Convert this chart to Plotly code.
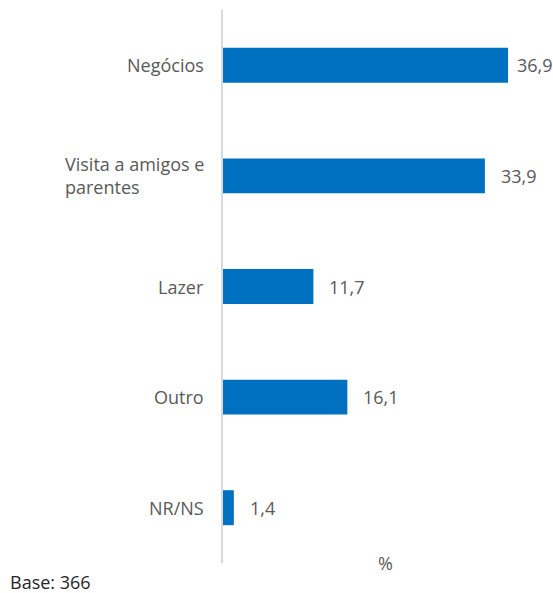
import plotly.graph_objects as go

# Motivo da viagem (%)
categorias = ["Negócios", "Visita a amigos e<br>parentes", "Lazer", "Outro", "NR/NS"]
valores = [36.9, 33.9, 11.7, 16.1, 1.4]
rotulos = [f"{v:.1f}".replace(".", ",") for v in valores]

FONTE = "Open Sans"
CINZA = "#595959"
AZUL = "#0070C0"

LARGURA, ALTURA = 553, 593
MARGEM = dict(l=223, r=21, t=10, b=30)
X_MAX = 40
largura_plot = LARGURA - MARGEM["l"] - MARGEM["r"]
px_por_unidade = largura_plot / X_MAX

fig = go.Figure(
    go.Bar(
        x=valores,
        y=categorias,
        orientation="h",
        marker=dict(color=AZUL, line=dict(width=0)),
        width=0.316,
        hoverinfo="skip",
    )
)

# value labels to the right of each bar; pulled closer when they would run
# past the right edge of the figure
LARGURA_ROTULO = 38
for cat, val, txt in zip(categorias, valores, rotulos):
    folga = largura_plot + MARGEM["r"] - val * px_por_unidade - LARGURA_ROTULO
    deslocamento = max(4, min(14, folga))
    fig.add_annotation(
        x=val, y=cat, xref="x", yref="y", text=txt, showarrow=False,
        xanchor="left", xshift=deslocamento,
        font=dict(family=FONTE, size=18, color=CINZA),
    )

# category labels, left-aligned block sitting left of the axis
for cat in categorias:
    fig.add_annotation(
        x=0, y=cat, xref="paper", yref="y", text=cat, showarrow=False,
        xanchor="right", xshift=-17, align="left",
        font=dict(family=FONTE, size=18, color=CINZA),
    )

fig.add_annotation(
    x=0.527, y=0, xref="paper", yref="paper", text="%", showarrow=False,
    xanchor="center", yanchor="middle", yshift=0,
    font=dict(family=FONTE, size=18, color=CINZA),
)
fig.add_annotation(
    x=-0.696, y=0, xref="paper", yref="paper", text="Base: 366", showarrow=False,
    xanchor="left", yanchor="middle", yshift=-19,
    font=dict(family=FONTE, size=18, color="#262626"),
)

fig.update_layout(
    width=LARGURA,
    height=ALTURA,
    margin=MARGEM,
    paper_bgcolor="white",
    plot_bgcolor="white",
    showlegend=False,
    xaxis=dict(range=[0, X_MAX], showticklabels=False, showgrid=False,
               zeroline=False, showline=False, ticks=""),
    yaxis=dict(autorange="reversed", showticklabels=False, showgrid=False,
               zeroline=False, showline=True, linecolor="#D9D9D9",
               linewidth=2, ticks=""),
)

fig.write_html("out.html")
